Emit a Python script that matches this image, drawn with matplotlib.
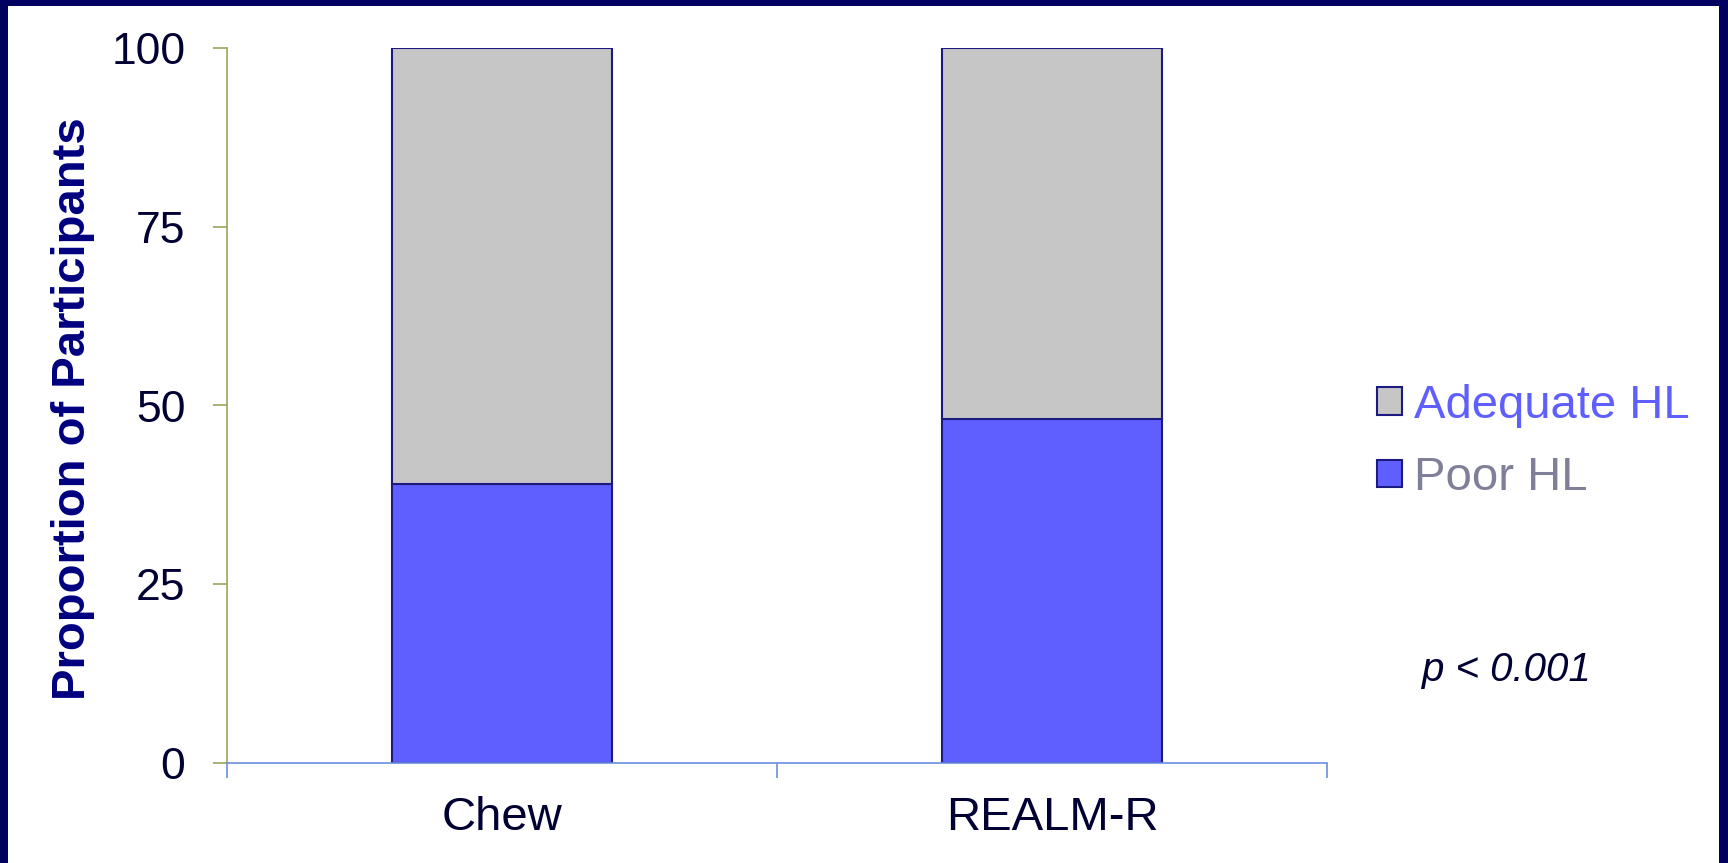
import numpy as np
import matplotlib
matplotlib.use("Agg")
import matplotlib.pyplot as plt
from matplotlib.patches import Rectangle, Patch

plt.rcParams['font.family'] = ['Liberation Sans', 'DejaVu Sans']

tests = ["Chew", "REALM-R"]
poor_hl = [39.0, 48.1]
adequate_hl = [61.0, 51.9]
yticks = [0, 25, 50, 75, 100]

navy = "#000060"
poor_color = "#5F5FFF"
adequate_color = "#C6C6C6"
edge_color = "#1A1A80"

fig = plt.figure(figsize=(17.28, 8.63), dpi=100)
fig.patch.set_facecolor(navy)
# white slide area inside the navy frame
fig.patches.append(Rectangle((8 / 1728, 0), (1719 - 8) / 1728, (863 - 6) / 863,
                             transform=fig.transFigure, facecolor="white",
                             edgecolor="none", zorder=-1))

ax = fig.add_axes([227 / 1728, 100 / 863, 1100 / 1728, 715 / 863])
ax.set_facecolor("none")
ax.set_zorder(1)

x = np.arange(len(tests)) + 0.5
ax.bar(x, poor_hl, width=0.4, color=poor_color, edgecolor=edge_color, linewidth=1.5,
       label="Poor HL", zorder=3)
ax.bar(x, adequate_hl, width=0.4, bottom=poor_hl, color=adequate_color,
       edgecolor=edge_color, linewidth=1.5, label="Adequate HL", zorder=3)

ax.set_xlim(0, len(tests))
ax.set_ylim(0, 100)

for side in ["top", "right"]:
    ax.spines[side].set_visible(False)
ax.spines["left"].set_color("#9CA55A")
ax.spines["left"].set_linewidth(1.2)
ax.spines["bottom"].set_color("#6A8FE0")
ax.spines["bottom"].set_linewidth(1.2)
ax.spines["bottom"].set_zorder(4)

ax.set_yticks(yticks)
ax.set_yticklabels([str(v) for v in yticks])
ax.tick_params(axis="y", direction="out", length=10, width=1.2, color="#9CA55A",
               labelsize=32, labelcolor="#000033", pad=20)

ax.set_xticks(x)
ax.set_xticklabels(tests)
ax.tick_params(axis="x", which="major", length=0, labelsize=34, labelcolor="#000033", pad=24)
ax.set_xticks(np.arange(len(tests) + 1), minor=True)
ax.tick_params(axis="x", which="minor", direction="out", length=11, width=1.2, color="#6A8FE0")

fig.text(73 / 1728, (863 - 409) / 863, "Proportion of Participants", rotation=90,
         ha="center", va="center", fontsize=34, fontweight="bold", color="#000080")

handles = [Patch(facecolor=adequate_color, edgecolor=edge_color, linewidth=1.5),
           Patch(facecolor=poor_color, edgecolor=edge_color, linewidth=1.5)]
leg = fig.legend(handles, ["Adequate HL", "Poor HL"], loc="center left",
                 bbox_to_anchor=(1377 / 1728, (863 - 442) / 863), frameon=False,
                 fontsize=34, handlelength=0.52, handleheight=0.52,
                 handletextpad=0.26, labelspacing=0.6, borderpad=0, borderaxespad=0)
leg.get_texts()[0].set_color(poor_color)
leg.get_texts()[1].set_color("#7F7F99")

fig.text(1422 / 1728, (863 - 670) / 863, "p < 0.001", ha="left", va="center",
         fontsize=29, style="italic", color="#000033")

fig.savefig("out.png", dpi=100, facecolor=fig.get_facecolor())
